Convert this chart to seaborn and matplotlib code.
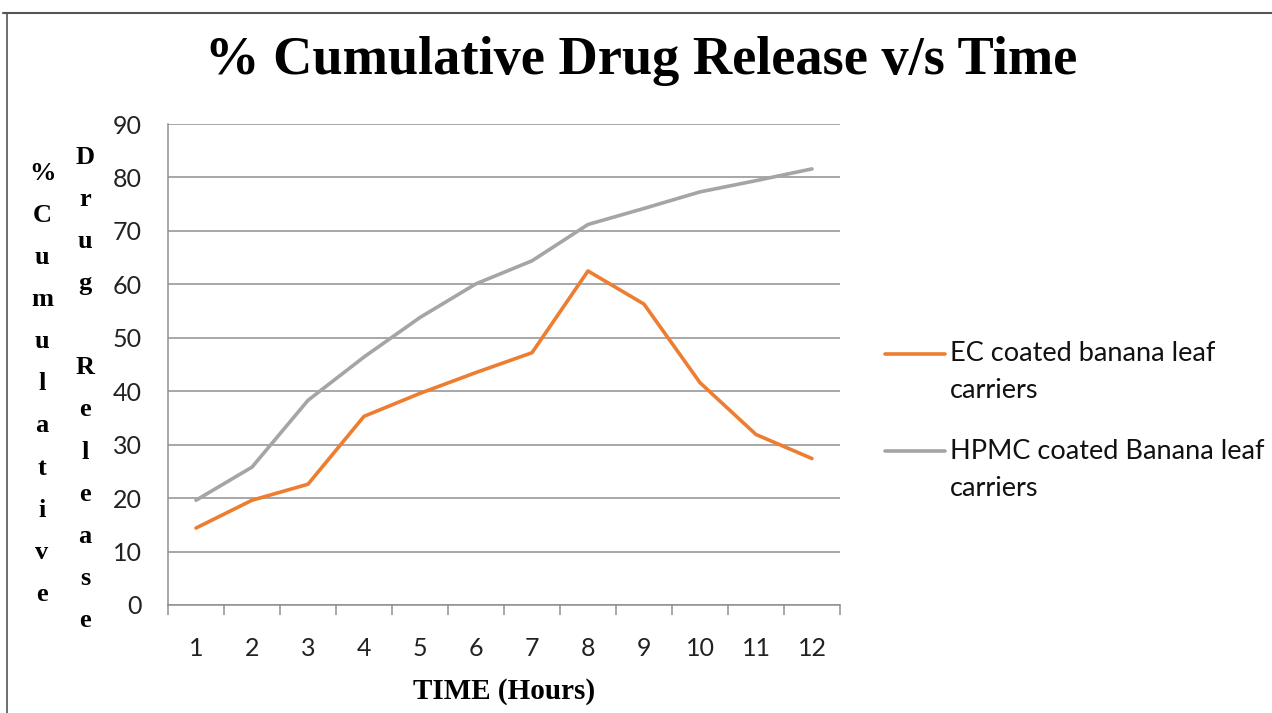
import matplotlib
matplotlib.use("Agg")
import matplotlib.pyplot as plt
from matplotlib.lines import Line2D
from matplotlib.legend_handler import HandlerLine2D
from matplotlib.ticker import MultipleLocator, FixedLocator
import numpy as np
import pandas as pd
import seaborn as sns

# Release data (% cumulative drug release per hour)
hours = [1, 2, 3, 4, 5, 6, 7, 8, 9, 10, 11, 12]
ec_release = [14.4, 19.6, 22.6, 35.3, 39.6, 43.5, 47.2, 62.5, 56.3, 41.6, 31.9, 27.4]
hpmc_release = [19.6, 25.8, 38.3, 46.4, 53.8, 60.1, 64.4, 71.2, 74.2, 77.3, 79.4, 81.6]
series_names = ["EC coated banana leaf\ncarriers", "HPMC coated Banana leaf\ncarriers"]
series_colors = ["#ED7D31", "#A5A5A5"]
y_ticks = [0, 10, 20, 30, 40, 50, 60, 70, 80, 90]

df = pd.DataFrame({
    "hour": hours * 2,
    "release": ec_release + hpmc_release,
    "series": [series_names[0]] * len(hours) + [series_names[1]] * len(hours),
})

sns.set_theme(style="white")
plt.rcParams["font.family"] = ["Lato", "DejaVu Sans"]

W, H = 1272, 713
fig = plt.figure(figsize=(W / 100, H / 100), dpi=100)
ax = fig.add_axes([168 / W, 1 - 605 / H, 672 / W, 481 / H])

sns.lineplot(data=df, x="hour", y="release", hue="series",
             palette=dict(zip(series_names, series_colors)),
             linewidth=2.6, ax=ax, legend=True)

grid_c = "#8F8F8F"
ax.set_xlim(0.5, 12.5)
ax.set_ylim(0, 90)
ax.yaxis.set_major_locator(FixedLocator(y_ticks))
ax.xaxis.set_major_locator(FixedLocator(hours))
ax.xaxis.set_minor_locator(MultipleLocator(1, offset=0.5))
ax.grid(axis="y", color=grid_c, linewidth=1.1)
ax.set_axisbelow(True)
for side in ("top", "right"):
    ax.spines[side].set_visible(False)
for side in ("left", "bottom"):
    ax.spines[side].set_color(grid_c)
    ax.spines[side].set_linewidth(1.1)
ax.tick_params(axis="y", which="major", length=8, width=1.1, color=grid_c,
               direction="out", labelsize=18, labelcolor="#222222", pad=11)
ax.tick_params(axis="x", which="major", length=0, labelsize=18,
               labelcolor="#222222", pad=23)
ax.tick_params(axis="x", which="minor", length=7, width=1.1, color=grid_c,
               direction="out", bottom=True)

ax.set_ylabel("")
ax.set_xlabel("TIME (Hours)", fontfamily="Liberation Serif", fontweight="bold",
              fontsize=21, color="black", labelpad=13)


class FirstLineHandler(HandlerLine2D):
    """Legend line drawn level with the first line of a two-line label."""
    shift = 13.7

    def create_artists(self, legend, orig_handle, xdescent, ydescent, width,
                       height, fontsize, trans):
        artists = super().create_artists(legend, orig_handle, xdescent, ydescent,
                                         width, height, fontsize, trans)
        for a in artists:
            a.set_ydata(np.asarray(a.get_ydata(), dtype=float) + self.shift)
        return artists


# Legend to the right of the plot area
handles, labels = ax.get_legend_handles_labels()
leg = ax.legend(handles, labels, loc="center left",
                bbox_to_anchor=(885 / W, 1 - 421 / H),
                bbox_transform=fig.transFigure, frameon=False, fontsize=19.5,
                handlelength=2.2, handletextpad=0.2, labelspacing=1.3,
                borderpad=0, borderaxespad=0,
                handler_map={Line2D: FirstLineHandler()})
for t in leg.get_texts():
    t.set_linespacing(1.6)
    t.set_color("#111111")

# Title
fig.text(641 / W, 1 - 74 / H, "% Cumulative Drug Release v/s Time",
         ha="center", va="baseline", fontfamily="Liberation Serif",
         fontweight="bold", fontsize=39.2, color="black")

# Stacked vertical y-axis title in two columns
col1 = "\n".join("%Cumulative")
col2 = "\n".join("Drug Release")
fig.text(42 / W, 1 - 162 / H, col1, ha="center", va="top", multialignment="center",
         fontfamily="Liberation Serif", fontweight="bold", fontsize=19,
         linespacing=2.06, color="black")
fig.text(85 / W, 1 - 146 / H, col2, ha="center", va="top", multialignment="center",
         fontfamily="Liberation Serif", fontweight="bold", fontsize=19,
         linespacing=2.06, color="black")

# Outer frame (top and left edges)
fig.add_artist(Line2D([3 / W, 1], [1 - 13 / H, 1 - 13 / H], transform=fig.transFigure,
                      color="#555555", linewidth=1.5))
fig.add_artist(Line2D([7 / W, 7 / W], [0, 1 - 13 / H], transform=fig.transFigure,
                      color="#555555", linewidth=1.2))

fig.savefig("out.png", dpi=100, facecolor="white")
